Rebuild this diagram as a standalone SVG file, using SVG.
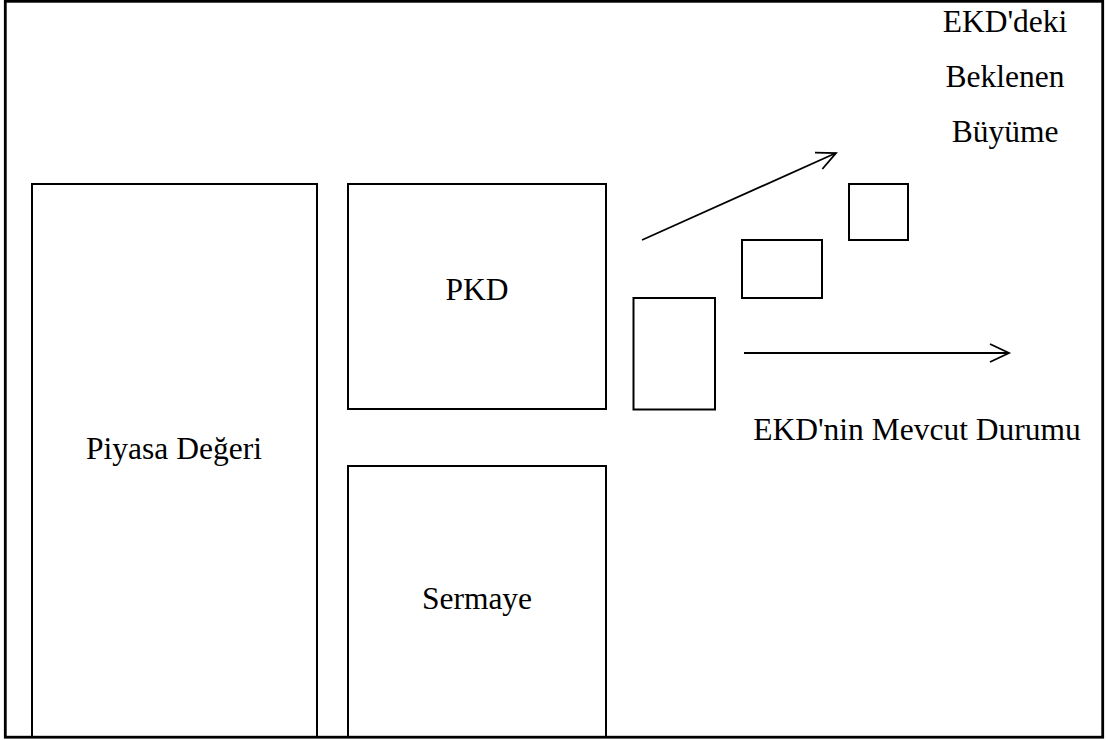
<svg xmlns="http://www.w3.org/2000/svg" width="1107" height="740" viewBox="0 0 1107 740">
<defs>
<style>
.box{fill:none;stroke:#000;stroke-width:2}
.frame{fill:none;stroke:#000;stroke-width:2.8}
.arr{fill:none;stroke:#000;stroke-width:1.8}
text{font-family:"Liberation Serif","Times New Roman",serif;font-size:31.5px;fill:#000;text-anchor:middle}
</style>
<marker id="ah" markerUnits="userSpaceOnUse" markerWidth="24" markerHeight="24" refX="20" refY="10" orient="auto" viewBox="0 0 24 24">
<path d="M1,1 L20,10 L1,19" fill="none" stroke="#000" stroke-width="1.8"/>
</marker>
</defs>
<rect width="1107" height="740" fill="#fff"/>
<rect class="frame" x="5.3" y="1.3" width="1097.4" height="735.9"/>
<g id="piyasa">
<path class="box" d="M32,737 V184 H317 V737"/>
<text x="174" y="459">Piyasa Değeri</text>
</g>
<g id="pkd">
<rect class="box" x="348" y="184" width="258" height="225"/>
<text x="477" y="300">PKD</text>
</g>
<g id="sermaye">
<path class="box" d="M348,737 V466 H606 V737"/>
<text x="477" y="609">Sermaye</text>
</g>
<g id="bar1"><rect class="box" x="633.5" y="298" width="81.5" height="111.5"/></g>
<g id="bar2"><rect class="box" x="742" y="240" width="80" height="58"/></g>
<g id="bar3"><rect class="box" x="849" y="184" width="59" height="56"/></g>
<g id="label-growth">
<text x="1005" y="32">EKD'deki</text>
<text x="1005" y="87">Beklenen</text>
<text x="1005" y="142">Büyüme</text>
</g>
<g id="label-current">
<text x="917" y="440">EKD'nin Mevcut Durumu</text>
</g>
<g id="connectors">
<line class="arr" x1="642" y1="240" x2="836" y2="153" marker-end="url(#ah)"/>
<line class="arr" x1="744" y1="353" x2="1009" y2="353" marker-end="url(#ah)"/>
</g>
</svg>
